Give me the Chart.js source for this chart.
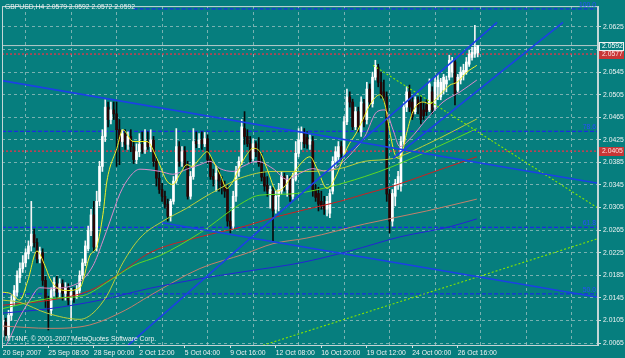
<!doctype html>
<html>
<head>
<title>GBPUSD,H4</title>
<script src="https://cdn.jsdelivr.net/npm/chart.js@4.4.1/dist/chart.umd.min.js"></script>
<style>
  html, body { margin: 0; padding: 0; background: #067e7e; }
  canvas { display: block; }
</style>
</head>
<body>
<canvas id="canvas" width="625" height="358"></canvas>
<script>
// ---- data (H4 bars, index 0 = 20 Sep 2007) ----
const opens = [2.0088,2.0102,2.0079,2.0114,2.0141,2.0155,2.0181,2.0197,2.0207,2.0223,2.0237,2.0257,2.0243,2.0214,2.0225,2.0176,2.0141,2.0123,2.0158,2.0170,
  2.0155,2.0170,2.0153,2.0162,2.0141,2.0155,2.0148,2.0158,2.0185,2.0207,2.0232,2.0264,2.0292,2.0235,2.0316,2.0378,2.0431,2.0483,2.0461,2.0478,
  2.0471,2.0443,2.0422,2.0436,2.0417,2.0431,2.0413,2.0390,2.0404,2.0417,2.0408,2.0422,2.0413,2.0425,2.0387,2.0357,2.0337,2.0325,2.0311,2.0290,
  2.0316,2.0352,2.0413,2.0387,2.0404,2.0378,2.0325,2.0360,2.0422,2.0418,2.0425,2.0418,2.0427,2.0390,2.0360,2.0355,2.0366,2.0352,2.0343,2.0337,
  2.0281,2.0272,2.0325,2.0369,2.0387,2.0445,2.0431,2.0418,2.0392,2.0418,2.0404,2.0383,2.0359,2.0345,2.0330,2.0334,2.0302,2.0325,2.0334,2.0360,
  2.0337,2.0355,2.0325,2.0355,2.0401,2.0422,2.0436,2.0429,2.0417,2.0422,2.0337,2.0330,2.0316,2.0311,2.0302,2.0295,2.0334,2.0387,2.0395,2.0413,
  2.0401,2.0457,2.0501,2.0492,2.0448,2.0475,2.0439,2.0489,2.0461,2.0515,2.0489,2.0536,2.0554,2.0527,2.0510,2.0501,2.0329,2.0281,2.0325,2.0346,
  2.0343,2.0422,2.0483,2.0510,2.0492,2.0475,2.0496,2.0492,2.0478,2.0487,2.0478,2.0510,2.0483,2.0519,2.0501,2.0513,2.0524,2.0536,2.0545,2.0563,
  2.0513,2.0531,2.0540,2.0545,2.0559,2.0571,2.0577,2.0579];
const highs = [2.0114,2.0109,2.0123,2.0149,2.0167,2.0193,2.0207,2.0220,2.0232,2.0246,2.0316,2.0267,2.0250,2.0235,2.0232,2.0183,2.0148,2.0163,2.0181,2.0183,
  2.0179,2.0177,2.0172,2.0170,2.0162,2.0163,2.0167,2.0193,2.0214,2.0246,2.0272,2.0302,2.0316,2.0334,2.0387,2.0443,2.0496,2.0492,2.0492,2.0492,
  2.0492,2.0461,2.0443,2.0443,2.0439,2.0443,2.0422,2.0418,2.0436,2.0439,2.0443,2.0439,2.0443,2.0431,2.0395,2.0369,2.0348,2.0334,2.0320,2.0320,
  2.0360,2.0445,2.0422,2.0413,2.0413,2.0387,2.0369,2.0445,2.0439,2.0436,2.0439,2.0438,2.0434,2.0395,2.0373,2.0378,2.0373,2.0360,2.0352,2.0346,
  2.0299,2.0334,2.0378,2.0395,2.0461,2.0475,2.0443,2.0431,2.0427,2.0422,2.0429,2.0401,2.0369,2.0360,2.0343,2.0341,2.0334,2.0348,2.0369,2.0366,
  2.0362,2.0360,2.0366,2.0422,2.0445,2.0448,2.0445,2.0439,2.0434,2.0431,2.0346,2.0341,2.0334,2.0325,2.0325,2.0337,2.0395,2.0413,2.0422,2.0422,
  2.0466,2.0515,2.0510,2.0497,2.0483,2.0483,2.0501,2.0497,2.0527,2.0524,2.0545,2.0566,2.0559,2.0545,2.0531,2.0510,2.0337,2.0337,2.0355,2.0369,
  2.0431,2.0492,2.0519,2.0522,2.0501,2.0501,2.0501,2.0501,2.0492,2.0496,2.0533,2.0519,2.0536,2.0541,2.0534,2.0541,2.0538,2.0575,2.0571,2.0568,
  2.0541,2.0554,2.0559,2.0571,2.0584,2.0589,2.0628,2.0592];
const lows = [2.0076,2.0070,2.0074,2.0105,2.0132,2.0148,2.0172,2.0190,2.0200,2.0214,2.0228,2.0235,2.0207,2.0207,2.0167,2.0128,2.0088,2.0114,2.0148,2.0144,
  2.0146,2.0141,2.0141,2.0132,2.0105,2.0137,2.0144,2.0153,2.0179,2.0202,2.0228,2.0255,2.0228,2.0228,2.0308,2.0369,2.0422,2.0448,2.0453,2.0461,
  2.0378,2.0381,2.0413,2.0408,2.0408,2.0404,2.0383,2.0383,2.0395,2.0401,2.0401,2.0408,2.0404,2.0378,2.0343,2.0330,2.0316,2.0304,2.0281,2.0281,
  2.0311,2.0348,2.0378,2.0378,2.0373,2.0320,2.0320,2.0355,2.0411,2.0411,2.0408,2.0413,2.0383,2.0355,2.0343,2.0334,2.0334,2.0329,2.0323,2.0272,
  2.0260,2.0267,2.0316,2.0360,2.0381,2.0417,2.0413,2.0383,2.0387,2.0395,2.0378,2.0352,2.0334,2.0325,2.0304,2.0246,2.0295,2.0299,2.0329,2.0334,
  2.0325,2.0316,2.0320,2.0352,2.0395,2.0408,2.0411,2.0410,2.0408,2.0325,2.0316,2.0299,2.0302,2.0293,2.0290,2.0287,2.0329,2.0378,2.0387,2.0390,
  2.0395,2.0452,2.0483,2.0443,2.0443,2.0439,2.0431,2.0448,2.0453,2.0483,2.0483,2.0531,2.0519,2.0499,2.0492,2.0316,2.0260,2.0272,2.0308,2.0337,
  2.0334,2.0417,2.0475,2.0475,2.0461,2.0471,2.0471,2.0453,2.0461,2.0468,2.0475,2.0471,2.0478,2.0496,2.0496,2.0506,2.0510,2.0531,2.0536,2.0487,
  2.0510,2.0524,2.0531,2.0541,2.0555,2.0566,2.0571,2.0572];
const closes = [2.0105,2.0079,2.0114,2.0141,2.0158,2.0185,2.0197,2.0207,2.0225,2.0237,2.0258,2.0243,2.0214,2.0228,2.0176,2.0141,2.0123,2.0158,2.0172,2.0155,
  2.0170,2.0153,2.0162,2.0141,2.0155,2.0148,2.0158,2.0185,2.0207,2.0237,2.0264,2.0292,2.0235,2.0316,2.0378,2.0431,2.0483,2.0461,2.0478,2.0471,
  2.0443,2.0422,2.0436,2.0417,2.0431,2.0413,2.0390,2.0404,2.0417,2.0408,2.0422,2.0413,2.0425,2.0387,2.0357,2.0337,2.0325,2.0311,2.0290,2.0316,
  2.0352,2.0413,2.0387,2.0404,2.0378,2.0325,2.0360,2.0422,2.0418,2.0425,2.0418,2.0427,2.0390,2.0360,2.0355,2.0366,2.0352,2.0343,2.0334,2.0281,
  2.0272,2.0325,2.0369,2.0387,2.0448,2.0431,2.0418,2.0390,2.0418,2.0404,2.0383,2.0359,2.0343,2.0334,2.0337,2.0299,2.0325,2.0337,2.0360,2.0343,
  2.0355,2.0325,2.0355,2.0401,2.0425,2.0436,2.0418,2.0417,2.0425,2.0337,2.0323,2.0311,2.0308,2.0302,2.0316,2.0330,2.0387,2.0404,2.0413,2.0401,
  2.0457,2.0501,2.0492,2.0448,2.0475,2.0448,2.0492,2.0457,2.0515,2.0492,2.0536,2.0557,2.0527,2.0505,2.0501,2.0329,2.0281,2.0330,2.0348,2.0360,
  2.0422,2.0483,2.0510,2.0483,2.0466,2.0496,2.0483,2.0461,2.0468,2.0475,2.0524,2.0478,2.0527,2.0531,2.0527,2.0536,2.0531,2.0566,2.0563,2.0506,
  2.0536,2.0545,2.0548,2.0563,2.0577,2.0580,2.0589,2.0592];

// time axis labels every 16 bars
const xLabels = ['20 Sep 2007','25 Sep 08:00','28 Sep 00:00','2 Oct 12:00','5 Oct 04:00','9 Oct 16:00',
  '12 Oct 08:00','16 Oct 20:00','19 Oct 12:00','24 Oct 00:00','26 Oct 16:00'];
const xLabelBars = [0,16,32,48,64,80,96,112,128,144,160];
const xGridBars = [8,24,40,56,72,88,104,120,136,152,168,184,200];
const yTicks = [2.0065,2.0105,2.0145,2.0185,2.0225,2.0265,2.0305,2.0345,2.0385,2.0425,2.0465,2.0505,2.0545,2.0585,2.0625];

// moving averages, [bar, price]
const maYellow = [[0,2.0155],[2.5,2.0153],[6,2.0141],[8.8,2.0176],[12,2.0228],[14.8,2.0202],[16.6,2.0179],[19,2.0163],[22.6,2.0158],[27.1,2.0163],
  [30.6,2.0220],[33.1,2.0237],[35.2,2.0293],[36.6,2.0352],[40.1,2.0410],[42.2,2.0443],[45.8,2.0422],[50.7,2.0422],[54.2,2.0392],[57.7,2.0352],
  [59.8,2.0346],[62.3,2.0364],[64.7,2.0381],[66.5,2.0378],[69.3,2.0392],[71.8,2.0404],[74,2.0387],[76.4,2.0364],[78.8,2.0339],[81,2.0352],
  [83.4,2.0378],[85.8,2.0399],[88,2.0410],[90.4,2.0404],[92.9,2.0374],[96.4,2.0334],[98.5,2.0339],[102,2.0364],[105.5,2.0387],[108,2.0395],
  [110.5,2.0374],[114,2.0339],[117.5,2.0364],[121,2.0410],[124.5,2.0439],[126.6,2.0461],[129.1,2.0487],[132.6,2.0505],[134.4,2.0487],[136.1,2.0439],
  [137.9,2.0399],[139.6,2.0392],[142.1,2.0439],[144.2,2.0475],[147.7,2.0492],[150.2,2.0489],[153.7,2.0505],[157.2,2.0522],[159.7,2.0527],[163.2,2.0545],[166.7,2.0557]];
const maPink = [[0,2.0052],[1.8,2.0067],[5,2.0102],[9.5,2.0141],[13,2.0163],[16.6,2.0162],[26,2.0170],[31.7,2.0202],[35.2,2.0246],[37.7,2.0281],
  [41.2,2.0330],[44.7,2.0360],[48.2,2.0373],[55.3,2.0369],[59.8,2.0364],[64.7,2.0373],[69.3,2.0381],[72.8,2.0387],[76.4,2.0374],[81,2.0369],
  [84.4,2.0378],[89.4,2.0387],[95,2.0374],[99.9,2.0355],[104.5,2.0366],[109,2.0374],[114,2.0369],[118.5,2.0381],[123.1,2.0404],[127.3,2.0431],
  [131.6,2.0475],[134.4,2.0478],[137.2,2.0443],[139.6,2.0413],[143.2,2.0427],[149.1,2.0462],[154.8,2.0492],[160.8,2.0510],[166.7,2.0531]];
const maKhaki = [[0,2.0141],[6,2.0137],[15.5,2.0118],[27.1,2.0107],[31.7,2.0118],[36.6,2.0149],[42.2,2.0207],[48.2,2.0251],[56.3,2.0281],[64.7,2.0304],
  [70.4,2.0322],[76.4,2.0339],[83.4,2.0357],[95,2.0369],[106.9,2.0369],[118.5,2.0374],[127.3,2.0387],[137.2,2.0392],[149.1,2.0417],[166.7,2.0462]];
const maLime = [[0,2.0126],[16.6,2.0144],[28.2,2.0149],[37.7,2.0176],[45.8,2.0202],[55.3,2.0220],[69.3,2.0260],[85.1,2.0316],[90.4,2.0327],[101,2.0329],
  [112.6,2.0339],[127.3,2.0360],[137.2,2.0378],[149.1,2.0404],[166.7,2.0445]];
const maRed = [[0,2.0132],[16.6,2.0141],[30.6,2.0158],[40.1,2.0185],[51.7,2.0225],[69.3,2.0253],[85.1,2.0272],[95,2.0287],[106.9,2.0302],[118.5,2.0316],
  [127.3,2.0329],[137.2,2.0343],[149.1,2.0364],[166.7,2.0395]];
const maSalmon = [[0,2.0095],[16.6,2.0091],[30.6,2.0097],[43,2.0123],[51.7,2.0149],[69.3,2.0197],[85.1,2.0223],[95,2.0241],[106.9,2.0251],[127.3,2.0276],
  [149.1,2.0299],[166.7,2.0320]];
const maBlue = [[0,2.0118],[16.6,2.0126],[34.2,2.0141],[51.7,2.0162],[69.3,2.0179],[86.9,2.0193],[104.5,2.0207],[122,2.0228],[139.6,2.0253],[157.2,2.0271],[166.7,2.0285]];

// trend lines, pairs of [bar, price]
const trendBlue = [
  [[-0.3,2.0530],[209.3,2.0348]],
  [[56,2.0278],[209.3,2.0146]],
  [[44,2.0061],[173.8,2.0633]],
  [[137.2,2.0392],[197,2.0633]]
];
const trendGreen = [
  [[130.2,2.0557],[209.3,2.0304]],
  [[91.5,2.0061],[209.3,2.0250]]
];

// fibonacci and horizontal levels
const fibNames = ['100.0','78.6','61.8','50.0'];
const fibLevels = [2.0657,2.0440,2.0270,2.0152];
const fibFrom = [46,-0.3,-0.3,-0.3];
const redLevels = [2.0577,2.0405];

const symbol = 'GBPUSD,H4';
const copyText = 'MT4NF, \u00a9 2001-2007 MetaQuotes Software Corp.';

// ---- look ----
const xMin = -0.3, xMax = 209.3;
const yMin = 2.00615, yMax = 2.0662;
const bg = '#067e7e';
const frameColor = '#c4d6d6';
const gridColor = 'rgba(170,200,200,0.7)';
const textColor = '#eef2f2';
const FONT_FAMILY = '"Liberation Sans", Arial, sans-serif';
const FONT_SIZE = 6.8;

const last = closes.length - 1;
const bid = closes[last];
const headerText = symbol + ' ' + [opens[last], highs[last], lows[last], closes[last]].map(v => v.toFixed(4)).join(' ');

const wickData = closes.map((c, i) => ({ x: i, y: [lows[i], highs[i]] }));
const bodyData = closes.map((c, i) => ({ x: i, y: [Math.min(opens[i], c), Math.max(opens[i], c)] }));
const wickColors = closes.map((c, i) => c >= opens[i] ? '#f4f4f4' : '#0a0a0a');
const bodyColors = closes.map((c, i) => c >= opens[i] ? '#ffffff' : '#2a0404');

function seg(points, color, width, dash, order, tension) {
  return {
    type: 'line',
    data: points.map(p => ({ x: p[0], y: p[1] })),
    borderColor: color,
    borderWidth: width,
    borderDash: dash,
    pointRadius: 0,
    tension: tension || 0,
    cubicInterpolationMode: tension ? 'monotone' : 'default',
    fill: false,
    order: order
  };
}

const datasets = [];
fibLevels.forEach((lv, i) => datasets.push(seg([[fibFrom[i], lv], [xMax, lv]], '#1a2ee0', 1.3, [4, 2], 40)));
redLevels.forEach(lv => datasets.push(seg([[xMin, lv], [xMax, lv]], '#e83448', 1.3, [2, 2], 40)));
datasets.push(seg([[xMin, bid], [xMax, bid]], '#b9cccc', 1, [], 40));

datasets.push({ type: 'bar', data: wickData, backgroundColor: wickColors, barThickness: 1, grouped: false, borderWidth: 0, order: 31 });
datasets.push({ type: 'bar', data: bodyData, backgroundColor: bodyColors, barThickness: 2, grouped: false, borderWidth: 0, order: 30 });

datasets.push(seg(maBlue, '#2424d4', 1, [], 9, 0.4));
datasets.push(seg(maSalmon, '#c4806c', 1, [], 9, 0.4));
datasets.push(seg(maRed, '#cc2020', 1, [], 8, 0.4));
datasets.push(seg(maLime, '#5ed824', 1, [], 7, 0.4));
datasets.push(seg(maKhaki, '#bccf3a', 1, [], 6, 0.4));
datasets.push(seg(maPink, '#dc8ccc', 1, [], 5, 0.4));
datasets.push(seg(maYellow, '#f2f028', 1, [], 4, 0.4));

trendBlue.forEach(t => datasets.push(seg(t, '#1c40e6', 1.6, [], 2)));
trendGreen.forEach(t => datasets.push(seg(t, '#84e400', 1.1, [2, 2], 3)));

const decor = {
  id: 'decor',
  beforeDraw(chart) {
    const c = chart.ctx;
    c.save();
    c.fillStyle = bg;
    c.fillRect(0, 0, chart.width, chart.height);
    c.restore();
  },
  afterDraw(chart) {
    const c = chart.ctx, a = chart.chartArea, ys = chart.scales.y;
    c.save();
    c.strokeStyle = frameColor;
    c.lineWidth = 1;
    c.strokeRect(a.left + 0.5, a.top + 0.5, a.right - a.left - 1, a.bottom - a.top);

    c.font = FONT_SIZE + 'px ' + FONT_FAMILY;
    c.fillStyle = textColor;
    c.textBaseline = 'middle';
    c.textAlign = 'left';
    c.fillText(headerText, 5, 7);
    c.fillText(copyText, 5, 339);

    c.fillStyle = '#2a4cff';
    c.textAlign = 'right';
    c.textBaseline = 'bottom';
    fibLevels.forEach((lv, i) => c.fillText(fibNames[i], a.right - 2, ys.getPixelForValue(lv) - 0.5));

    // price labels on the scale
    c.textAlign = 'left';
    c.textBaseline = 'middle';
    const box = (v, fill, stroke, txt) => {
      const y = Math.round(ys.getPixelForValue(v));
      c.fillStyle = fill;
      c.fillRect(a.right + 1, y - 4, 25, 9);
      c.strokeStyle = stroke;
      c.strokeRect(a.right + 1.5, y - 3.5, 24, 8);
      c.fillStyle = txt;
      c.fillText(v.toFixed(4), a.right + 4, y + 0.5);
    };
    redLevels.forEach(lv => box(lv, '#c83636', '#c83636', '#ffe0e0'));
    box(bid, bg, '#f0f0f0', '#ffffff');
    c.restore();
  }
};

new Chart(document.getElementById('canvas'), {
  type: 'bar',
  data: { datasets },
  plugins: [decor],
  options: {
    responsive: false,
    animation: false,
    devicePixelRatio: 1,
    layout: { padding: { left: 2, top: 2, right: 0, bottom: 0 } },
    plugins: { legend: { display: false }, tooltip: { enabled: false } },
    scales: {
      x: {
        type: 'linear', position: 'bottom', min: xMin, max: xMax, offset: false,
        afterBuildTicks: s => { s.ticks = xLabelBars.map(v => ({ value: v })); },
        afterFit: s => { s.height = 13; },
        ticks: {
          color: textColor, font: { family: FONT_FAMILY, size: FONT_SIZE }, padding: 1,
          align: 'start', maxRotation: 0, autoSkip: false,
          callback: v => xLabels[xLabelBars.indexOf(v)]
        },
        grid: { drawOnChartArea: false, offset: false, tickLength: 3, color: '#d4dede' },
        border: { display: true, color: frameColor }
      },
      xg: {
        type: 'linear', position: 'top', min: xMin, max: xMax, offset: false,
        afterBuildTicks: s => { s.ticks = xGridBars.map(v => ({ value: v })); },
        afterFit: s => { s.height = 0; },
        ticks: { display: false },
        grid: { color: gridColor, drawTicks: false, offset: false },
        border: { display: false, dash: [3, 3] }
      },
      y: {
        type: 'linear', position: 'right', min: yMin, max: yMax, beginAtZero: false,
        afterBuildTicks: s => { s.ticks = yTicks.map(v => ({ value: v })); },
        afterFit: s => { s.width = 27; },
        ticks: {
          color: textColor, font: { family: FONT_FAMILY, size: FONT_SIZE }, padding: 2,
          callback: v => Math.abs(v - bid) < 0.001 ? '' : v.toFixed(4)
        },
        grid: { color: gridColor, tickLength: 3, tickColor: '#d4dede' },
        border: { display: true, color: frameColor, dash: [3, 3] }
      }
    }
  }
});
</script>
</body>
</html>
